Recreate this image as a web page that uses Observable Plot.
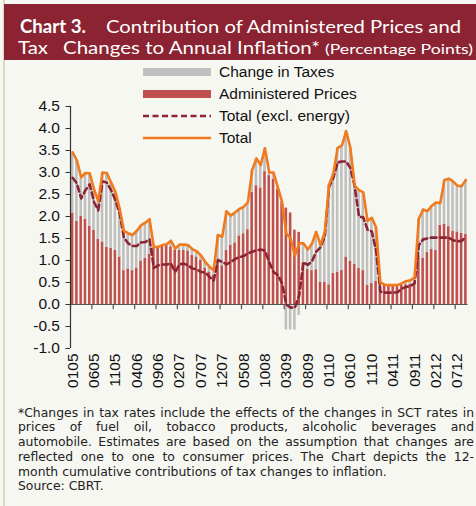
<!DOCTYPE html>
<html>
<head>
<meta charset="utf-8">
<script src="https://cdn.jsdelivr.net/npm/d3@7"></script>
<script src="https://cdn.jsdelivr.net/npm/@observablehq/plot@0.6"></script>
<style>
  html, body { margin: 0; padding: 0; }
  body { width: 476px; height: 506px; overflow: hidden; position: relative; background: #F7F7F2; }
  #edge { position: absolute; left: 3px; top: 0; width: 2px; height: 506px; background: #DDD8C2; }
  #title { position: absolute; left: 4px; top: 4px; }
  #chart { position: absolute; left: 0; top: 60px; }
  #legend { position: absolute; left: 143px; top: 61px; font-family: "Liberation Sans", Arial, sans-serif; font-size: 15.5px; color: #111; }
  .lrow { height: 21.9px; display: flex; align-items: center; }
  .lrow svg { margin-right: 8px; }
  #note { position: absolute; left: 18px; top: 405.5px; width: 456px; font-family: "DejaVu Sans", sans-serif; font-size: 12.4px; line-height: 14.8px; color: #222; }
  #note div { white-space: nowrap; }
  #note .j { text-align: justify; text-align-last: justify; }
</style>
</head>
<body>
<div id="edge"></div>
<svg id="title" width="472" height="56">
  <rect width="472" height="56" fill="#8B2332"></rect>
  <text x="16" y="29" fill="#fff" font-family="Lato, sans-serif" font-size="18" font-weight="bold" textLength="66" lengthAdjust="spacingAndGlyphs">Chart 3.</text>
  <text x="102" y="29" fill="#fff" font-family="Lato, sans-serif" font-size="18" textLength="355" lengthAdjust="spacingAndGlyphs">Contribution of Administered Prices and</text>
  <text x="14" y="49.5" fill="#fff" font-family="Lato, sans-serif" font-size="18" textLength="30" lengthAdjust="spacingAndGlyphs">Tax</text>
  <text x="59" y="49.5" fill="#fff" font-family="Lato, sans-serif" font-size="18" textLength="257" lengthAdjust="spacingAndGlyphs">Changes to Annual Inflation*</text>
  <text x="321" y="49.5" fill="#fff" font-family="Lato, sans-serif" font-size="13.5" textLength="148" lengthAdjust="spacingAndGlyphs">(Percentage Points)</text>
</svg>
<div id="chart"></div>
<div id="legend"></div>
<div id="note">
  <div class="j">*Changes in tax rates include the effects of the changes in SCT rates in</div>
  <div class="j">prices of fuel oil, tobacco products, alcoholic beverages and</div>
  <div class="j">automobile. Estimates are based on the assumption that changes are</div>
  <div class="j">reflected one to one to consumer prices. The Chart depicts the 12-</div>
  <div>month cumulative contributions of tax changes to inflation.</div>
  <div>Source: CBRT.</div>
</div>
<script>
// Months Jan 2005 .. Sep 2012, labelled MMYY
const months = [];
for (let y = 5; y <= 12; y++) for (let m = 1; m <= 12; m++) months.push(String(m).padStart(2, "0") + String(y).padStart(2, "0"));
months.length = 93;

const tickLabels = ["0105","0605","1105","0406","0906","0207","0707","1207","0508","1008","0309","0809","0110","0610","1110","0411","0911","0212","0712"];
const yTicks = [-1, -0.5, 0, 0.5, 1, 1.5, 2, 2.5, 3, 3.5, 4, 4.5];
const legendLabels = ["Change in Taxes", "Administered Prices", "Total (excl. energy)", "Total"];

const administered = [
  2.08,1.89,2.00,1.94,1.78,1.69,1.48,1.42,1.30,1.28,1.23,1.08,
  0.77,0.81,0.77,0.83,0.99,1.05,1.14,1.29,1.31,1.33,1.36,1.31,
  1.23,1.23,1.23,1.22,1.12,1.08,1.01,0.83,0.74,0.67,0.93,0.88,
  1.23,1.35,1.40,1.56,1.61,1.70,2.55,2.70,2.65,3.02,2.93,2.85,
  2.62,2.33,2.19,2.08,1.69,1.64,0.96,0.80,0.77,0.79,0.51,0.51,
  0.45,0.71,0.74,0.78,1.08,0.98,0.91,0.82,0.77,0.44,0.48,0.53,
  0.47,0.45,0.44,0.44,0.44,0.44,0.45,0.46,0.49,1.11,1.05,1.18,
  1.25,1.23,1.80,1.82,1.77,1.67,1.65,1.62,1.59
];
const taxes = [
  1.38,1.38,0.89,1.05,1.20,0.93,0.87,1.58,1.69,1.49,1.33,1.10,
  0.90,0.81,0.81,0.84,0.81,0.81,0.80,0.01,0.00,0.02,0.01,0.14,
  0.04,0.13,0.13,0.13,0.14,0.13,0.11,0.14,0.12,0.11,0.65,0.66,
  0.89,0.67,0.69,0.61,0.61,0.62,0.50,0.62,0.52,0.53,0.07,0.15,
  0.05,0.00,-0.58,-0.58,-0.58,-0.25,0.43,0.45,0.61,0.86,0.84,1.14,
  2.27,2.26,2.82,2.83,2.86,2.57,1.79,1.78,1.78,1.46,1.49,1.22,
  0.03,0.00,0.00,0.00,0.00,0.04,0.08,0.09,0.12,0.84,1.11,0.94,
  0.99,1.09,0.50,1.01,1.09,1.13,1.05,1.07,1.24
];
const totalExEnergy = [
  2.88,2.75,2.41,2.60,2.73,2.33,2.14,2.80,2.77,2.60,2.37,2.07,
  1.52,1.39,1.33,1.33,1.41,1.42,1.48,0.83,0.89,0.91,0.91,0.93,
  0.74,0.91,0.93,0.89,0.82,0.80,0.74,0.73,0.63,0.54,1.01,0.97,
  0.91,0.97,1.03,1.08,1.10,1.16,1.20,1.23,1.25,1.22,0.96,0.74,
  0.67,0.48,0.00,-0.07,-0.07,0.20,0.96,0.90,0.98,1.20,1.30,1.55,
  2.67,2.88,3.23,3.25,3.25,3.10,2.68,2.00,1.98,1.70,1.66,1.22,
  0.29,0.27,0.27,0.27,0.28,0.36,0.40,0.42,0.48,1.35,1.48,1.50,
  1.52,1.52,1.52,1.52,1.52,1.46,1.44,1.44,1.54
];
const total = [
  3.46,3.27,2.89,2.99,2.98,2.62,2.35,3.00,2.99,2.77,2.56,2.18,
  1.67,1.62,1.58,1.67,1.80,1.86,1.94,1.30,1.31,1.35,1.37,1.45,
  1.27,1.36,1.36,1.35,1.26,1.21,1.12,0.97,0.86,0.78,1.58,1.54,
  2.12,2.02,2.09,2.17,2.22,2.32,3.05,3.32,3.17,3.55,3.00,3.00,
  2.67,2.33,1.61,1.50,1.11,1.39,1.39,1.25,1.38,1.65,1.35,1.65,
  2.72,2.97,3.56,3.61,3.94,3.55,2.70,2.60,2.55,1.90,1.97,1.75,
  0.50,0.45,0.44,0.44,0.44,0.48,0.53,0.55,0.61,1.95,2.16,2.12,
  2.24,2.32,2.30,2.83,2.86,2.80,2.70,2.69,2.83
];

const colors = { tax: "#BFBFBF", admin: "#C0504D", ex: "#8B2535", tot: "#F07A1C" };

const data = months.map((m, i) => ({ i, m, admin: administered[i], tax: taxes[i], ex: totalExEnergy[i], tot: total[i] }));
const tickIdx = tickLabels.map(l => months.indexOf(l));
const tickBounds = tickIdx.map(i => i - 0.5);
const xDomain = [-0.5, months.length - 0.5];
const yDomain = [yTicks[0], yTicks[yTicks.length - 1]];

const chart = Plot.plot({
  width: 476, height: 340,
  marginLeft: 70, marginRight: 8.5, marginTop: 46, marginBottom: 52,
  x: { domain: xDomain, axis: null, label: null },
  y: { domain: yDomain, axis: null, label: null },
  style: { background: "transparent", fontFamily: "'Liberation Sans', Arial, sans-serif", color: "#111" },
  marks: [
    Plot.rectY(data, { x1: d => d.i - 0.5, x2: d => d.i + 0.5, y1: 0, y2: "admin", fill: colors.admin, insetLeft: 0.85, insetRight: 0.85 }),
    Plot.rectY(data, { x1: d => d.i - 0.5, x2: d => d.i + 0.5,
      y1: d => d.tax >= 0 ? d.admin : 0, y2: d => d.tax >= 0 ? d.admin + d.tax : d.tax,
      fill: colors.tax, insetLeft: 0.85, insetRight: 0.85 }),
    Plot.ruleY([0], { stroke: "#555", strokeWidth: 1.2 }),
    Plot.ruleX(tickBounds, { y1: 0, y2: -0.12, stroke: "#555", strokeWidth: 1.2 }),
    Plot.ruleX([xDomain[0]], { y1: yDomain[0], y2: yDomain[1], stroke: "#333", strokeWidth: 1.2 }),
    Plot.axisY(yTicks, { tickFormat: d => d.toFixed(1), tickSize: 4.5, tickPadding: 6, fontSize: 15.5, label: null, stroke: "#333" }),
    Plot.axisX(tickIdx, { tickFormat: i => months[i], tickRotate: -90, tickSize: 0, tickPadding: 5, fontSize: 15.5, label: null }),
    Plot.line(data, { x: "i", y: "ex", stroke: colors.ex, strokeWidth: 2.6, strokeDasharray: "6,3.5" }),
    Plot.line(data, { x: "i", y: "tot", stroke: colors.tot, strokeWidth: 2.6 })
  ]
});
document.getElementById("chart").appendChild(chart);

// Legend
const swatches = [
  `<svg width="68" height="10"><rect y="1" width="68" height="8" fill="${colors.tax}"/></svg>`,
  `<svg width="68" height="10"><rect y="1" width="68" height="8" fill="${colors.admin}"/></svg>`,
  `<svg width="68" height="10"><line x1="0" x2="68" y1="5" y2="5" stroke="${colors.ex}" stroke-width="2.6" stroke-dasharray="6,3.5"/></svg>`,
  `<svg width="68" height="10"><line x1="0" x2="68" y1="5" y2="5" stroke="${colors.tot}" stroke-width="2.6"/></svg>`
];
document.getElementById("legend").innerHTML = legendLabels.map((l, k) => `<div class="lrow">${swatches[k]}<span>${l}</span></div>`).join("");
</script>
</body>
</html>
